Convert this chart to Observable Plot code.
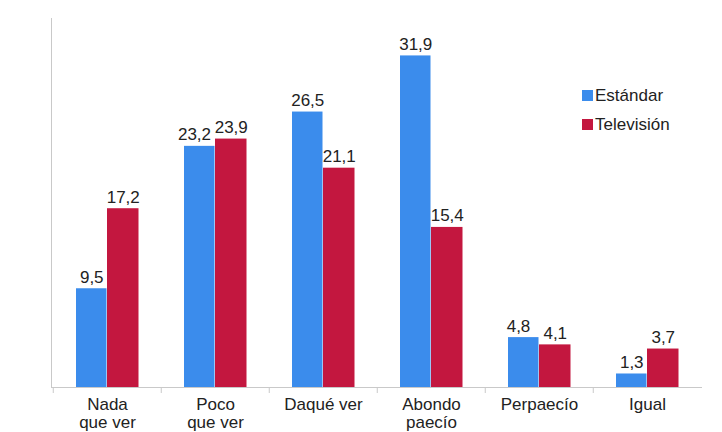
<!DOCTYPE html>
<html>
<head>
<meta charset="utf-8">
<script src="https://cdn.jsdelivr.net/npm/d3@7"></script>
<script src="https://cdn.jsdelivr.net/npm/@observablehq/plot@0.6"></script>
<style>
  body { margin: 0; background: #fff; font-family: "Liberation Sans", Arial, sans-serif; }
  #chart { position: relative; width: 722px; height: 432px; }
  .legend { position: absolute; left: 582px; top: 81px; font-size: 17px; color: #222; }
  .legend .item { display: flex; align-items: center; height: 29px; }
  .legend .sw { width: 11px; height: 11px; margin-right: 2px; display: inline-block; }
</style>
</head>
<body>
<div id="chart"></div>
<script>
// Answers grouped by category, two series
const categories = ["Nada\nque ver", "Poco\nque ver", "Daqué ver", "Abondo\npaecío", "Perpaecío", "Igual"];
const seriesNames = ["Estándar", "Televisión"];
const estandar = [9.5, 23.2, 26.5, 31.9, 4.8, 1.3];
const television = [17.2, 23.9, 21.1, 15.4, 4.1, 3.7];
const colors = ["#3b8cec", "#c3173f"];

const rowsA = categories.map((c, i) => ({cat: c, value: estandar[i], near: Math.abs(estandar[i] - television[i]) < 2}));
const rowsB = categories.map((c, i) => ({cat: c, value: television[i]}));
const fmt = d3.format(".1f");
const label = d => fmt(d.value).replace(".", ",");

const gray = "#c9c9c9";
const textOpts = {x: "cat", y: "value", text: label, dy: -6, lineAnchor: "bottom", fontSize: 17, fill: "#222"};

const chart = Plot.plot({
  width: 722,
  height: 432,
  marginLeft: 51,
  marginRight: 20,
  marginTop: 18,
  marginBottom: 45,
  style: {fontFamily: '"Liberation Sans", Arial, sans-serif', fontSize: "17px", color: "#222", background: "#fff"},
  x: {domain: categories, padding: 0, axis: null, label: null},
  y: {domain: [0, 35.5], axis: null},
  marks: [
    Plot.frame({anchor: "left", stroke: gray}),
    Plot.barY(rowsA, {x: "cat", y: "value", fill: colors[0], insetLeft: 23, insetRight: 54.5}),
    Plot.barY(rowsB, {x: "cat", y: "value", fill: colors[1], insetLeft: 54, insetRight: 22.5}),
    Plot.ruleY([0], {stroke: gray}),
    Plot.axisX({tickSize: 6, text: null, label: null, dx: -54.25, stroke: gray}),
    Plot.axisX({tickSize: 0, tickPadding: 10, label: null, fontSize: 17, lineHeight: 1.06, fill: "#222"}),
    // Blue labels, nudged left when the paired value is close and the labels would touch
    Plot.text(rowsA.filter(d => !d.near), {...textOpts, dx: -15.75}),
    Plot.text(rowsA.filter(d => d.near), {...textOpts, dx: -21}),
    Plot.text(rowsB, {...textOpts, dx: 15.75})
  ]
});

const host = document.getElementById("chart");
host.appendChild(chart);

const legend = document.createElement("div");
legend.className = "legend";
seriesNames.forEach((name, i) => {
  const item = document.createElement("div");
  item.className = "item";
  const sw = document.createElement("span");
  sw.className = "sw";
  sw.style.background = colors[i];
  item.appendChild(sw);
  item.appendChild(document.createTextNode(name));
  legend.appendChild(item);
});
host.appendChild(legend);
</script>
</body>
</html>
